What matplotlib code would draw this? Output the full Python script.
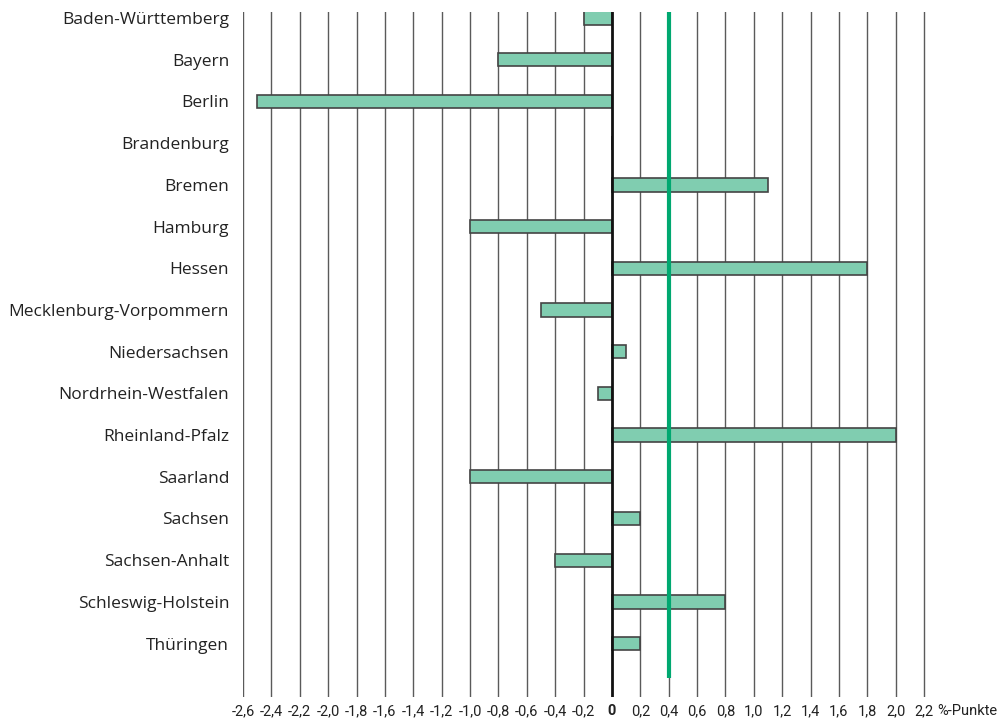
import matplotlib
matplotlib.use("Agg")
from matplotlib import pyplot as plt
from matplotlib import transforms
import numpy as np

# Länder und Veränderung in %-Punkten
laender = ["Baden-Württemberg", "Bayern", "Berlin", "Brandenburg", "Bremen",
           "Hamburg", "Hessen", "Mecklenburg-Vorpommern", "Niedersachsen",
           "Nordrhein-Westfalen", "Rheinland-Pfalz", "Saarland", "Sachsen",
           "Sachsen-Anhalt", "Schleswig-Holstein", "Thüringen"]
werte = [-0.2, -0.8, -2.5, 0.0, 1.1, -1.0, 1.8, -0.5, 0.1, -0.1, 2.0, -1.0,
         0.2, -0.4, 0.8, 0.2]
durchschnitt = 0.4
ticks = np.round(np.arange(-2.6, 2.21, 0.2), 1)
tick_labels = [("%.1f" % t).replace(".", ",") if abs(t) > 1e-9 else "0" for t in ticks]

schmal = ["Roboto", "DejaVu Sans"]

fig = plt.figure(figsize=(9.99, 7.26), dpi=100)
ax = fig.add_axes([243 / 999, 29 / 726, 684 / 999, 685 / 726])

y = np.arange(len(laender))
ax.set_xlim(-2.6, 2.2 + 3 / 142)
ax.set_ylim(16.28, -0.144)

# Gitterlinien
for t in ticks:
    if abs(t) < 1e-9:
        continue
    ax.axvline(t, color="#5a5a5a", lw=1.0, zorder=1)

ax.barh(y, werte, height=0.32, color="#80cdb0", edgecolor="#444444",
        linewidth=1.2, zorder=2)
ax.axvline(0, color="#111111", lw=2.0, zorder=3)
ax.vlines(durchschnitt, -0.17, 15.83, color="#00a870", lw=3, zorder=4)

for s in ax.spines.values():
    s.set_visible(False)
ax.tick_params(axis="both", length=0)
ax.set_yticks(y)
ax.set_yticklabels(laender, fontsize=12.5, family=["Open Sans", "DejaVu Sans"],
                   color="#222222")
ax.tick_params(axis="y", pad=10)
ax.set_xticks(ticks)
ax.set_xticklabels([])

# x-Beschriftung unterhalb der Gitterlinien
trans = transforms.blended_transform_factory(ax.transData, fig.transFigure)
ylab = (726 - 711) / 726
for t, lab in zip(ticks, tick_labels):
    ax.text(t, ylab, lab, transform=trans, fontsize=10.5, family=schmal,
            color="#222222", ha="center", va="center",
            fontweight="bold" if lab == "0" else "normal")
ax.text(2.2 + 0.09, ylab, "%-Punkte", transform=trans, fontsize=10.5,
        family=schmal, color="#222222", ha="left", va="center")

fig.savefig("out.png", dpi=100)
